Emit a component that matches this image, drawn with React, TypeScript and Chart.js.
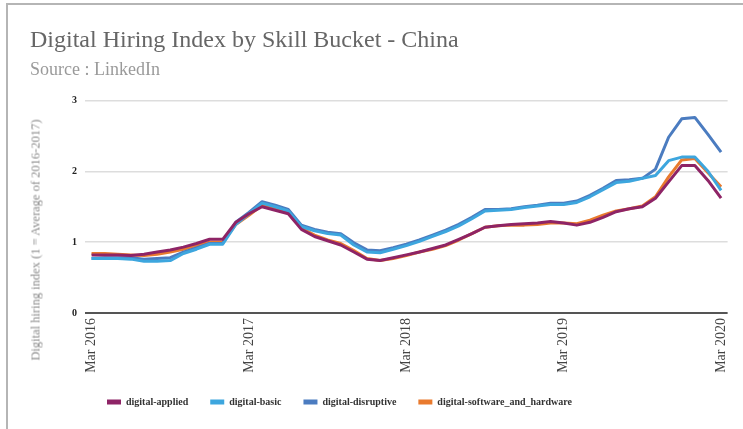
import React, { useEffect, useRef } from "react";
import { Chart, registerables } from "chart.js";

Chart.register(...registerables);

const months = [
  "Mar 2016", "Apr 2016", "May 2016", "Jun 2016", "Jul 2016", "Aug 2016", "Sep 2016", "Oct 2016", "Nov 2016", "Dec 2016",
  "Jan 2017", "Feb 2017", "Mar 2017", "Apr 2017", "May 2017", "Jun 2017", "Jul 2017", "Aug 2017", "Sep 2017", "Oct 2017", "Nov 2017", "Dec 2017",
  "Jan 2018", "Feb 2018", "Mar 2018", "Apr 2018", "May 2018", "Jun 2018", "Jul 2018", "Aug 2018", "Sep 2018", "Oct 2018", "Nov 2018", "Dec 2018",
  "Jan 2019", "Feb 2019", "Mar 2019", "Apr 2019", "May 2019", "Jun 2019", "Jul 2019", "Aug 2019", "Sep 2019", "Oct 2019", "Nov 2019", "Dec 2019",
  "Jan 2020", "Feb 2020", "Mar 2020",
];

const shownTickLabels = ["Mar 2016", "Mar 2017", "Mar 2018", "Mar 2019", "Mar 2020"];

const digitalApplied = [
  0.82, 0.82, 0.82, 0.81, 0.83, 0.86, 0.89, 0.93, 0.98, 1.04,
  1.04, 1.28, 1.40, 1.50, 1.45, 1.40, 1.18, 1.08, 1.02, 0.96, 0.86, 0.76,
  0.74, 0.78, 0.82, 0.86, 0.91, 0.96, 1.04, 1.12, 1.21, 1.23, 1.25, 1.26,
  1.27, 1.29, 1.27, 1.24, 1.28, 1.35, 1.43, 1.47, 1.50, 1.62, 1.85, 2.08,
  2.08, 1.87, 1.62,
];

const digitalBasic = [
  0.77, 0.77, 0.77, 0.76, 0.73, 0.73, 0.74, 0.84, 0.90, 0.97,
  0.97, 1.25, 1.40, 1.55, 1.50, 1.44, 1.22, 1.16, 1.12, 1.10, 0.96, 0.86,
  0.85, 0.90, 0.95, 1.01, 1.08, 1.15, 1.23, 1.33, 1.44, 1.45, 1.46, 1.49,
  1.51, 1.53, 1.53, 1.56, 1.64, 1.74, 1.84, 1.86, 1.90, 1.94, 2.15, 2.20,
  2.20, 2.00, 1.73,
];

const digitalDisruptive = [
  0.77, 0.78, 0.78, 0.78, 0.76, 0.77, 0.78, 0.86, 0.92, 0.98,
  0.98, 1.28, 1.42, 1.57, 1.52, 1.46, 1.24, 1.18, 1.14, 1.12, 0.99, 0.89,
  0.88, 0.92, 0.97, 1.03, 1.10, 1.17, 1.25, 1.35, 1.46, 1.46, 1.47, 1.50,
  1.52, 1.55, 1.55, 1.58, 1.66, 1.76, 1.87, 1.88, 1.90, 2.03, 2.48, 2.74,
  2.76, 2.52, 2.27,
];

const digitalSoftwareAndHardware = [
  0.84, 0.84, 0.83, 0.82, 0.81, 0.83, 0.86, 0.90, 0.95, 1.00,
  1.00, 1.25, 1.38, 1.52, 1.47, 1.41, 1.20, 1.10, 1.03, 0.98, 0.88, 0.77,
  0.74, 0.77, 0.81, 0.86, 0.90, 0.95, 1.03, 1.12, 1.21, 1.23, 1.24, 1.24,
  1.25, 1.27, 1.27, 1.26, 1.31, 1.38, 1.44, 1.47, 1.51, 1.64, 1.92, 2.16,
  2.18, 1.98, 1.78,
];

const seriesNames = ["digital-applied", "digital-basic", "digital-disruptive", "digital-software_and_hardware"];
const seriesColors = ["#8E2466", "#3DA6DE", "#4B7CC0", "#E97A2E"];

const FONT = "'Liberation Serif', 'Times New Roman', serif";

export default function App() {
  const canvasRef = useRef<HTMLCanvasElement | null>(null);

  useEffect(() => {
    if (!canvasRef.current) return;
    const seriesData = [digitalApplied, digitalBasic, digitalDisruptive, digitalSoftwareAndHardware];
    const chart = new Chart(canvasRef.current, {
      type: "line",
      data: {
        labels: months,
        datasets: seriesNames.map((name, i) => ({
          label: name,
          data: seriesData[i],
          borderColor: seriesColors[i],
          backgroundColor: seriesColors[i],
          borderWidth: 3,
          pointRadius: 0,
          pointHoverRadius: 0,
          tension: 0,
          borderJoinStyle: "round" as const,
          fill: false,
        })),
      },
      options: {
        animation: false,
        responsive: true,
        maintainAspectRatio: false,
        layout: { padding: { left: 0, right: 13, top: 0, bottom: 12 } },
        plugins: {
          title: {
            display: true,
            text: "Digital Hiring Index by Skill Bucket - China",
            align: "start",
            color: "#666",
            font: { family: FONT, size: 24, weight: "normal" },
            padding: { top: 6, bottom: 5 },
          },
          subtitle: {
            display: true,
            text: "Source : LinkedIn",
            align: "start",
            color: "#9a9a9a",
            font: { family: FONT, size: 18, weight: "normal" },
            padding: { top: 0, bottom: 19 },
          },
          legend: {
            position: "bottom",
            align: "start",
            fullSize: false,
            labels: {
              boxWidth: 14,
              boxHeight: 5,
              padding: 22,
              color: "#333",
              font: { family: FONT, size: 10, weight: "bold" },
              generateLabels: (c: any) =>
                Chart.defaults.plugins.legend.labels.generateLabels(c).map((it: any) => ({ ...it, lineWidth: 0 })),
            },
          },
          tooltip: { enabled: false },
        },
        scales: {
          x: {
            type: "category",
            offset: true,
            grid: { display: false, drawTicks: false },
            border: { display: false },
            ticks: {
              autoSkip: false,
              maxRotation: 90,
              minRotation: 90,
              padding: 5,
              color: "#444",
              font: { family: FONT, size: 14 },
              callback: (_v: any, i: number) => (shownTickLabels.includes(months[i]) ? months[i] : null),
            },
            afterFit: (s: any) => {
              s.height = 62;
            },
          },
          y: {
            min: 0,
            max: 3,
            ticks: {
              stepSize: 1,
              padding: 8,
              color: "#222",
              font: { family: FONT, size: 10, weight: "bold" },
            },
            grid: {
              drawTicks: false,
              color: (ctx: any) => (ctx.tick && ctx.tick.value === 0 ? "#555" : "#ddd"),
              lineWidth: (ctx: any) => (ctx.tick && ctx.tick.value === 0 ? 2 : 1.5),
            },
            border: { display: false },
            afterFit: (s: any) => {
              s.width = 55;
            },
          },
        },
      },
    });
    return () => chart.destroy();
  }, []);

  return (
    <div style={{ position: "fixed", left: 0, top: 0, width: 743, height: 429, overflow: "hidden", background: "#fff" }}>
      <div
        style={{
          position: "absolute",
          left: 6,
          top: 3,
          width: 900,
          height: 600,
          border: "2px solid #b5b5b5",
          boxSizing: "border-box",
        }}
      />
      <div style={{ position: "absolute", left: 30, top: 20, width: 713, height: 409 }}>
        <canvas ref={canvasRef} />
      </div>
      <div
        style={{
          position: "absolute",
          left: 36,
          top: 240,
          transform: "translate(-50%, -50%) rotate(-90deg)",
          whiteSpace: "nowrap",
          fontFamily: FONT,
          fontSize: 12.5,
          color: "#8a8a8a",
        }}
      >
        Digital hiring index (1 = Average of 2016-2017)
      </div>
    </div>
  );
}
